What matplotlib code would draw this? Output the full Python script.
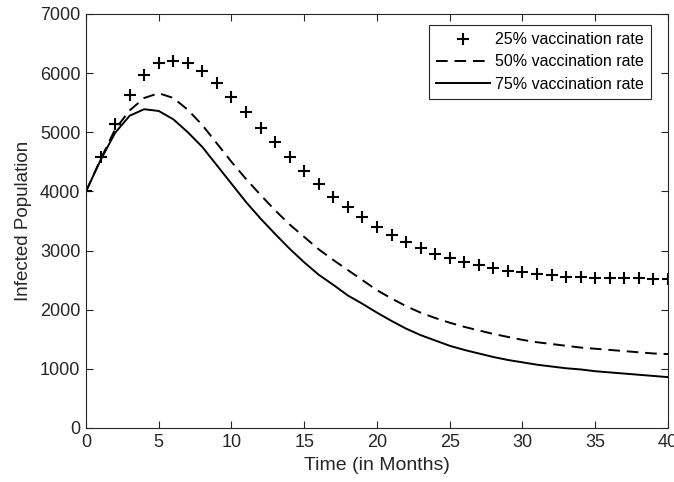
import matplotlib
matplotlib.use("Agg")
import matplotlib.pyplot as plt
import numpy as np

months = list(range(0, 41))

rate25 = [4000, 4580, 5140, 5630, 5970, 6170, 6210, 6170, 6030, 5830,
          5600, 5350, 5080, 4830, 4580, 4350, 4120, 3910, 3730, 3560,
          3400, 3260, 3150, 3040, 2950, 2880, 2810, 2760, 2700, 2660,
          2630, 2600, 2580, 2560, 2550, 2540, 2535, 2530, 2530, 2525, 2525]

rate50 = [4000, 4540, 5050, 5370, 5580, 5660, 5580, 5380, 5120, 4810,
          4500, 4210, 3940, 3680, 3440, 3230, 3020, 2840, 2670, 2500,
          2330, 2190, 2060, 1950, 1860, 1780, 1710, 1650, 1590, 1540,
          1490, 1450, 1420, 1390, 1360, 1340, 1320, 1300, 1280, 1260, 1250]

rate75 = [4000, 4530, 4990, 5280, 5390, 5360, 5220, 5000, 4750, 4440,
          4130, 3820, 3540, 3280, 3030, 2800, 2590, 2420, 2240, 2100,
          1950, 1810, 1680, 1570, 1480, 1390, 1320, 1260, 1200, 1150,
          1110, 1070, 1040, 1010, 990, 960, 940, 920, 900, 880, 860]

labels = ["25% vaccination rate", "50% vaccination rate", "75% vaccination rate"]
xticks = [0, 5, 10, 15, 20, 25, 30, 35, 40]
yticks = [0, 1000, 2000, 3000, 4000, 5000, 6000, 7000]

plt.rcParams['font.family'] = ['Liberation Sans', 'DejaVu Sans']

fig = plt.figure(figsize=(6.74, 4.82), dpi=100)
ax = fig.add_axes([86/674, 54/482, (668-86)/674, (428-14)/482])

ax.plot(months, rate25, linestyle='none', marker='+', color='black',
        markersize=9, markeredgewidth=1.5, label=labels[0])
ax.plot(months, rate50, linestyle=(0, (6, 3.5)), color='black', lw=1.4,
        label=labels[1])
ax.plot(months, rate75, linestyle='-', color='black', lw=1.4, label=labels[2])

ax.set_xlim(0, 40)
ax.set_ylim(0, 7000)
ax.set_xticks(xticks)
ax.set_yticks(yticks)
ax.tick_params(direction='in', top=True, right=True, length=5, width=0.8,
               labelsize=13, colors='#262626', pad=4)
for s in ax.spines.values():
    s.set_linewidth(0.8)
    s.set_color('#262626')

ax.set_xlabel("Time (in Months)", fontsize=14, color='#262626', labelpad=5)
ax.set_ylabel("Infected Population", fontsize=13.5, color='#262626', labelpad=6)

leg = ax.legend(loc='upper right', bbox_to_anchor=(651/674, 1 - 25/482),
                bbox_transform=fig.transFigure, borderaxespad=0,
                fontsize=11.5, fancybox=False, framealpha=1, edgecolor='#262626',
                handlelength=3.4, handletextpad=0.3, borderpad=0.45,
                labelspacing=0.45)
leg.get_frame().set_linewidth(0.8)

fig.savefig("out.png", dpi=100)
